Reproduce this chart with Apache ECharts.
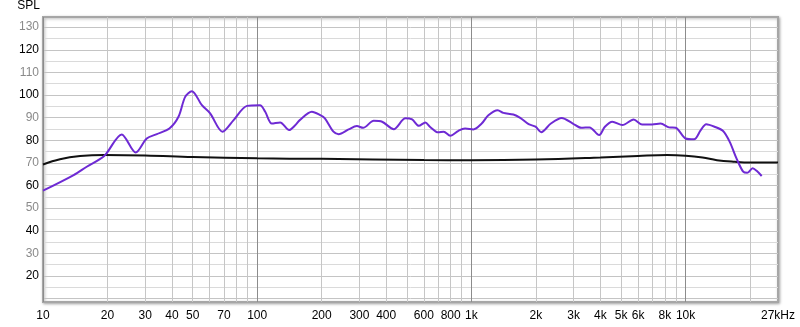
<!DOCTYPE html>
<html>
<head>
<meta charset="utf-8">
<script src="https://cdn.jsdelivr.net/npm/echarts@6/dist/echarts.min.js"></script>
<style>
  html, body { margin: 0; padding: 0; background: #fff; }
  #chart { width: 800px; height: 327px; }
</style>
</head>
<body>
<div id="chart"></div>
<script>
// frequency response, log frequency axis

// purple trace (measured)
var measFreq = [10, 13.9, 16, 19.3, 23.3, 27.1, 30.5, 34, 38.9, 42.9, 46.1, 49.5, 55.2, 60.3, 68.9, 77.6, 89.6, 103, 109, 117, 128, 141, 150,
    158, 180, 197, 207, 227, 240, 267, 292, 312, 350, 383, 434, 492, 529, 568, 610, 640, 700, 742, 797, 870, 934, 1021,
    1117, 1200, 1327, 1410, 1570, 1690, 1850, 1992, 2118, 2350, 2640, 2975, 3255, 3560, 3950, 4200, 4550, 5070, 5720,
    6260, 6980, 7640, 8370, 8990, 10000, 10950, 11770, 12480, 13650, 14960, 16070, 17280, 18570, 19400, 20550, 21460, 22660];
var measSpl = [57.7, 64.6, 68.3, 73.0, 82.6, 74.6, 80.8, 82.7, 85.2, 90.4, 99.2, 101.7, 95.5, 91.9, 83.8, 88.9, 95.2, 95.5, 92.6, 87.4, 87.9, 84.5, 86.5,
    88.9, 92.6, 91.1, 89.7, 83.8, 82.7, 84.8, 86.3, 85.5, 88.6, 88.2, 84.9, 89.7, 89.2, 86.4, 87.9, 86.0, 83.5, 83.8, 82.0, 84.2, 85.2, 84.8,
    87.4, 91.1, 93.3, 92.1, 91.4, 89.9, 87.1, 86.0, 83.6, 87.4, 89.9, 87.4, 85.5, 85.7, 82.3, 86.0, 88.2, 86.7, 89.2,
    87.0, 87.0, 87.4, 85.7, 85.5, 80.8, 80.4, 84.5, 87.1, 86.0, 84.1, 79.3, 72.0, 66.1, 65.6, 67.6, 66.5, 64.2];

// black trace (target)
var targetFreq = [10, 12, 14.9, 19.3, 30, 50, 100, 200, 600, 1000, 2000, 4000, 6000, 8200, 10000, 12000, 14000, 17000, 20000, 27000];
var targetSpl = [69.3, 71.6, 73.0, 73.5, 73.3, 72.6, 72.0, 71.8, 71.3, 71.2, 71.5, 72.4, 73.1, 73.5, 73.2, 72.4, 71.2, 70.5, 70.2, 70.2];

// axes
var freqLabels = [10, 20, 30, 40, 50, 70, 100, 200, 300, 400, 600, 800, 1000, 2000, 3000, 4000, 5000, 6000, 8000, 10000, 27000];
var freqGrid = [10, 20, 30, 40, 50, 60, 70, 80, 90, 100, 200, 300, 400, 500, 600, 700, 800, 900,
    1000, 2000, 3000, 4000, 5000, 6000, 7000, 8000, 9000, 10000, 20000];
var splLabels = [20, 30, 40, 50, 60, 70, 80, 90, 100, 110, 120, 130];
var splGrid = [10, 15, 20, 25, 30, 35, 40, 45, 50, 55, 60, 65, 70, 75, 80, 85, 90, 95, 100, 105, 110, 115, 120, 125, 130];

function lg(f) { return Math.log10(f); }
function pairs(fs, vs) {
    return fs.map(function (f, i) { return [lg(f), vs[i]]; });
}

var myChart = echarts.init(document.getElementById('chart'));

var option = {
    animation: false,
    textStyle: { fontFamily: 'Liberation Sans, Arial, sans-serif' },
    grid: {
        left: 43, right: 22, top: 17, bottom: 25,
        show: true,
        backgroundColor: '#fff',
        borderColor: '#a6a6a6',
        borderWidth: 2,
        shadowColor: 'rgba(0,0,0,0.3)',
        shadowBlur: 3,
        shadowOffsetX: 1,
        shadowOffsetY: 1
    },
    xAxis: {
        type: 'value',
        min: lg(10),
        max: lg(27000),
        axisLine: { show: false },
        axisTick: { show: false, customValues: freqGrid.map(lg) },
        axisLabel: {
            customValues: freqLabels.map(lg),
            margin: 8,
            fontSize: 12,
            color: '#000',
            formatter: function (v) {
                var f = Math.round(Math.pow(10, v));
                if (f === 27000) return '27kHz';
                return f >= 1000 ? (f / 1000) + 'k' : String(f);
            }
        },
        splitLine: {
            show: true,
            lineStyle: {
                width: 1,
                color: ['#8c8c8c', '#c6c6c6', '#c6c6c6', '#c6c6c6', '#c6c6c6', '#c6c6c6', '#c6c6c6', '#c6c6c6', '#c6c6c6']
            }
        }
    },
    yAxis: {
        type: 'value',
        min: 8.5,
        max: 134.5,
        name: 'SPL',
        nameLocation: 'end',
        nameGap: 5,
        nameTextStyle: { align: 'right', verticalAlign: 'bottom', fontSize: 12, color: '#000', padding: [0, 3, 0, 0] },
        axisLine: { show: false },
        axisTick: { show: false, customValues: splGrid },
        axisLabel: {
            customValues: splLabels,
            margin: 4,
            fontSize: 12,
            color: function (v) { return (Math.round(v) % 20 === 0) ? '#000' : '#8a8a8a'; }
        },
        splitLine: {
            show: true,
            lineStyle: { width: 1, color: ['#c4c4c4', '#dadada'] }
        }
    },
    series: [
        {
            name: 'target',
            type: 'line',
            data: pairs(targetFreq, targetSpl),
            showSymbol: false,
            smooth: 0.4,
            lineStyle: { color: '#111', width: 2 },
            z: 2
        },
        {
            name: 'measurement',
            type: 'line',
            data: pairs(measFreq, measSpl),
            showSymbol: false,
            smooth: 0.3,
            lineStyle: { color: '#6e2ad4', width: 2 },
            z: 3
        }
    ]
};

myChart.setOption(option);
</script>
</body>
</html>
